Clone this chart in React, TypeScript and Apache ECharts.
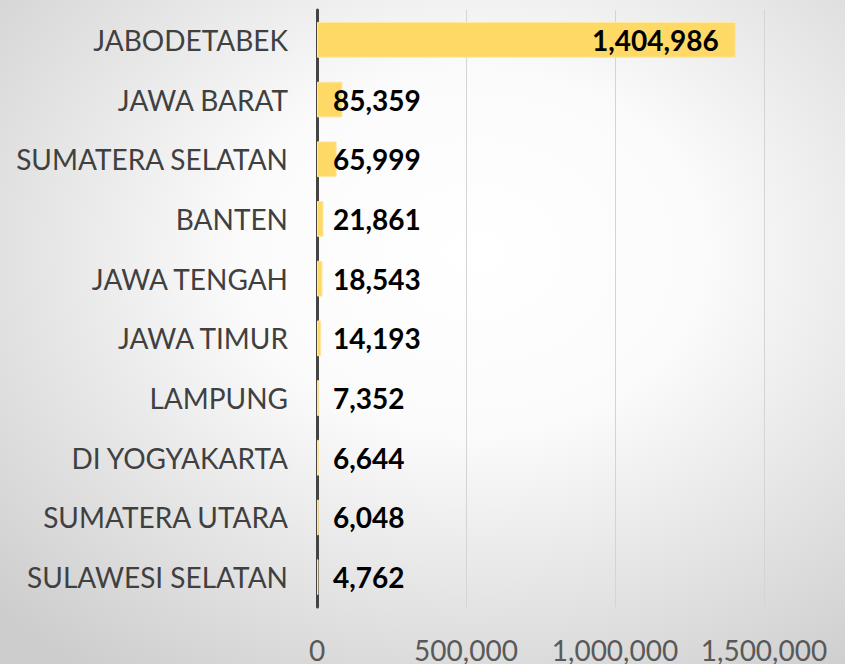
import React, { useEffect, useRef } from "react";
import * as echarts from "echarts";

const categories = [
  "JABODETABEK",
  "JAWA BARAT",
  "SUMATERA SELATAN",
  "BANTEN",
  "JAWA TENGAH",
  "JAWA TIMUR",
  "LAMPUNG",
  "DI YOGYAKARTA",
  "SUMATERA UTARA",
  "SULAWESI SELATAN",
];
const values = [1404986, 85359, 65999, 21861, 18543, 14193, 7352, 6644, 6048, 4762];
const xTicks = [0, 500000, 1000000, 1500000];

const fmt = (v: number) => v.toLocaleString("en-US");

export default function App() {
  const ref = useRef<HTMLDivElement>(null);
  useEffect(() => {
    document.body.style.margin = "0";
    const chart = echarts.init(ref.current!, null, { renderer: "svg" });
    chart.setOption({
      animation: false,
      backgroundColor: {
        type: "radial",
        x: 0.56,
        y: 0.38,
        r: 0.78,
        colorStops: [
          { offset: 0, color: "#ffffff" },
          { offset: 0.35, color: "#fbfbfb" },
          { offset: 1, color: "#cdcdcd" },
        ],
      },
      grid: { left: 317, top: 10, width: 447, height: 600, containLabel: false },
      xAxis: {
        type: "value",
        min: xTicks[0],
        max: xTicks[xTicks.length - 1],
        interval: 500000,
        axisLine: { show: false },
        axisTick: { show: false },
        splitLine: { show: true, lineStyle: { color: "#d4d4d4", width: 1 } },
        axisLabel: {
          margin: 29,
          color: "#595959",
          fontFamily: "Lato",
          fontSize: 28,
          formatter: (v: number) => fmt(v),
        },
      },
      yAxis: {
        type: "category",
        inverse: true,
        data: categories,
        axisLine: { show: true, lineStyle: { color: "#444444", width: 3 } },
        axisTick: { show: false },
        axisLabel: {
          margin: 29,
          color: "#404040",
          fontFamily: "Lato",
          fontSize: 28,
        },
      },
      series: [
        {
          type: "bar",
          barCategoryGap: "40%",
          itemStyle: { color: "#FFD966", borderColor: "#fde8a6", borderWidth: 1 },
          data: values.map((v, i) => ({
            value: v,
            label: {
              show: true,
              position: i === 0 ? "insideRight" : "insideLeft",
              distance: i === 0 ? 17 : 16,
            },
          })),
          label: {
            show: true,
            color: "#000000",
            fontFamily: "Lato",
            fontWeight: "bold",
            fontSize: 28,
            formatter: (p: any) => fmt(p.value),
          },
          z: 1,
        },
      ],
    });
    return () => chart.dispose();
  }, []);
  return <div ref={ref} style={{ width: 845, height: 664 }} />;
}
